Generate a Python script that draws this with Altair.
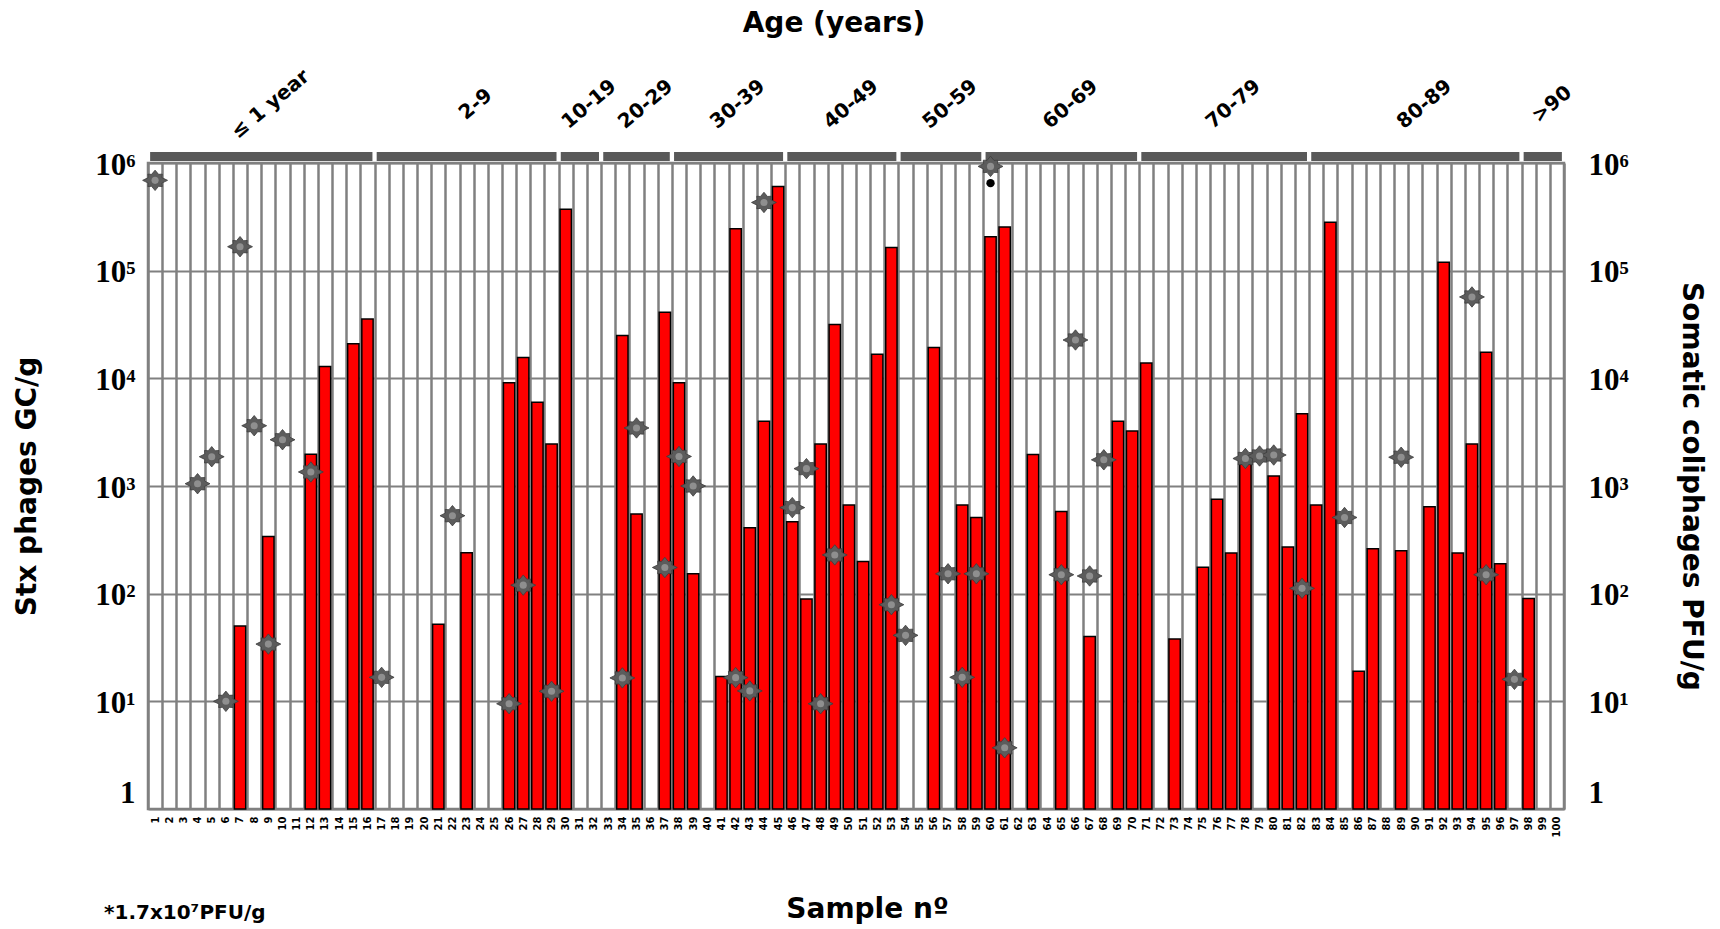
import json
import altair as alt
import pandas as pd

# ---------------- data ----------------
# 100 sample slots (0-based index); sample codes are unreadable in the picture
sample_ids = [str(i) for i in range(1, 101)]

age_groups = ["≤ 1 year", "2-9", "10-19", "20-29", "30-39", "40-49",
              "50-59", "60-69", "70-79", "80-89", ">90"]
group_first = [0, 16, 29, 32, 37, 45, 53, 59, 70, 82, 97]
group_last = [15, 28, 31, 36, 44, 52, 58, 69, 81, 96, 99]

# Stx phages GC/g (red bars)
stx_sample = [6, 8, 11, 12, 14, 15, 20, 22, 25, 26, 27, 28, 29, 33, 34, 36, 37, 38,
              40, 41, 42, 43, 44, 45, 46, 47, 48, 49, 50, 51, 52, 55, 57, 58, 59, 60,
              62, 64, 66, 68, 69, 70, 72, 74, 75, 76, 77, 79, 80, 81, 82, 83, 85, 86,
              88, 90, 91, 92, 93, 94, 95, 97]
stx_gc = [50, 340, 1970, 12900, 21000, 35600, 52, 240, 9100, 15600, 6000, 2450, 372000,
          25000, 550, 41000, 9100, 153, 17, 245000, 410, 4000, 605000, 466, 89, 2450,
          31600, 665, 199, 16700, 164000, 19300, 665, 510, 206000, 255000, 1960, 580,
          40, 4000, 3240, 13900, 38, 176, 754, 239, 1600, 1240, 272, 4700, 665, 282000,
          19, 262, 250, 640, 120000, 238, 2450, 17500, 190, 90]

# Somatic coliphages PFU/g (grey stars)
coli_sample = [0, 3, 4, 5, 6, 7, 8, 9, 11, 16, 21, 25, 26, 28, 33, 34, 36, 37, 38, 41,
               42, 43, 45, 46, 47, 48, 52, 53, 56, 57, 58, 59, 60, 64, 65, 66, 67, 77,
               78, 79, 81, 84, 88, 93, 94, 96]
coli_pfu = [690000, 1050, 1870, 10, 167000, 3630, 34, 2690, 1350, 16.7, 530, 9.5, 120,
            12.4, 16.5, 3460, 175, 1880, 1000, 16.6, 12.5, 430000, 630, 1450, 9.5, 229,
            79, 41, 153, 16.7, 153, 930000, 3.7, 150, 22700, 146, 1750, 1800, 1900,
            1940, 112, 510, 1850, 57000, 150, 16]

# off-scale value marker (*1.7x10^7 PFU/g)
offscale_sample = [59]
offscale_pfu = [650000]

# ---------------- frames ----------------
bars_df = pd.DataFrame({"slot": stx_sample, "gc": stx_gc})
stars_df = pd.DataFrame({"slot": coli_sample, "pfu": coli_pfu})
flag_df = pd.DataFrame({"slot": offscale_sample, "pfu": offscale_pfu})
groups_df = pd.DataFrame({"group": age_groups, "first": group_first, "last": group_last})

W, H = 1416, 646
GRID = "#808080"
TITLE_FONT = "DejaVu Sans"
TICK_FONT = "Liberation Serif"

xscale = alt.Scale(domain=[0, 100], nice=False, zero=False)
yscale = alt.Scale(type="log", domain=[1, 1000000], nice=False)

ylabel_expr = ("datum.value < 2 ? '1' : '10' + ['', '¹', '²', '³', '⁴', '⁵', '⁶']"
               "[round(log(datum.value) / LN10)]")
xlabel_expr = "datum.value < 100 ? " + json.dumps(sample_ids) + "[datum.value] : ''"
decades = [1, 10, 100, 1000, 10000, 100000, 1000000]

left_axis = alt.Axis(
    values=decades, labelExpr=ylabel_expr, grid=True, gridColor=GRID, gridWidth=2.2,
    ticks=False, domain=False, labelFont=TICK_FONT, labelFontWeight="bold",
    labelFontSize=31, labelColor="black", labelPadding=13,
    labelOffset={"condition": {"test": "datum.value < 2", "value": -16}, "value": 2},
    title="Stx phages GC/g", titleFont=TITLE_FONT, titleFontSize=28,
    titleFontWeight="bold", titleColor="black", titleAngle=270,
    titleX=-121, titleY=H / 2, titleAlign="center", titleBaseline="middle")

right_axis = alt.Axis(
    orient="right", values=decades, labelExpr=ylabel_expr, grid=False,
    ticks=False, domain=False, labelFont=TICK_FONT, labelFontWeight="bold",
    labelFontSize=31, labelColor="black", labelPadding=24,
    labelOffset={"condition": {"test": "datum.value < 2", "value": -16}, "value": 2},
    title="Somatic coliphages PFU/g", titleFont=TITLE_FONT, titleFontSize=28,
    titleFontWeight="bold", titleColor="black", titleAngle=90,
    titleX=126, titleY=H / 2, titleAlign="center", titleBaseline="middle")

x_axis = alt.Axis(
    values=list(range(0, 101)), grid=True, gridColor=GRID, gridWidth=2.5,
    ticks=False, domain=False, labelExpr=xlabel_expr, labelAngle=270,
    labelFont=TITLE_FONT, labelFontWeight="bold", labelFontSize=10,
    labelColor="black", labelOffset=7, labelPadding=7, labelOverlap=False,
    title="Sample nº", titleFont=TITLE_FONT, titleFontSize=28, titleFontWeight="bold",
    titleColor="black", titleX=719, titleY=100, titleAlign="center",
    titleBaseline="middle")

bars = alt.Chart(bars_df).transform_calculate(
    x0="datum.slot + 0.1", x1="datum.slot + 0.9"
).mark_bar(color="#ff0000", stroke="black", strokeWidth=1.5).encode(
    x=alt.X("x0:Q", scale=xscale, axis=x_axis),
    x2="x1:Q",
    y=alt.Y("gc:Q", scale=yscale, axis=left_axis),
    y2=alt.datum(1),
)

STAR = ("M-1,0 L-0.55,-0.22 L-0.58,-0.5 L-0.28,-0.48 L0,-0.82 L0.28,-0.48 L0.58,-0.5 "
        "L0.55,-0.22 L1,0 L0.55,0.22 L0.58,0.5 L0.28,0.48 L0,0.82 L-0.28,0.48 "
        "L-0.58,0.5 L-0.55,0.22 Z")

stars_base = alt.Chart(stars_df).transform_calculate(xc="datum.slot + 0.5")
stars = stars_base.mark_point(shape=STAR, filled=True, size=620, color="#5c5c5c",
                              stroke="#3c3c3c", strokeWidth=0.8, opacity=1).encode(
    x=alt.X("xc:Q", scale=xscale, axis=None),
    y=alt.Y("pfu:Q", scale=yscale, axis=right_axis),
)
stars_hi = stars_base.mark_point(shape="circle", filled=True, size=50, color="#8f8f8f",
                                 opacity=1).encode(
    x=alt.X("xc:Q", scale=xscale, axis=None),
    y=alt.Y("pfu:Q", scale=yscale, axis=None),
)

flag = alt.Chart(flag_df).transform_calculate(xc="datum.slot + 0.5").mark_point(
    shape="circle", filled=True, size=70, color="black", opacity=1).encode(
    x=alt.X("xc:Q", scale=xscale, axis=None),
    y=alt.Y("pfu:Q", scale=yscale, axis=None),
)

group_bars = alt.Chart(groups_df).transform_calculate(
    gs="datum.first + 0.15", ge="datum.last + 1 - 0.15"
).mark_rect(color="#595959").encode(
    x=alt.X("gs:Q", scale=xscale, axis=None),
    x2="ge:Q",
    y=alt.value(-11),
    y2=alt.value(-2),
)

group_labels = alt.Chart(groups_df).transform_calculate(
    gc="(datum.first + datum.last + 1) / 2"
).mark_text(angle=320, font=TITLE_FONT, fontWeight="bold", fontSize=20,
            color="black", align="center", baseline="middle", dx=12).encode(
    x=alt.X("gc:Q", scale=xscale, axis=None),
    y=alt.value(-51),
    text="group:N",
)

age_title = alt.Chart(pd.DataFrame({"t": ["Age (years)"]})).mark_text(
    font=TITLE_FONT, fontWeight="bold", fontSize=28, color="black",
    align="center", baseline="middle").encode(
    x=alt.value(686), y=alt.value(-139), text="t:N")

footnote = alt.Chart(pd.DataFrame({"t": ["*1.7x10⁷PFU/g"]})).mark_text(
    font=TITLE_FONT, fontWeight="bold", fontSize=20, color="black",
    align="left", baseline="middle").encode(
    x=alt.value(-44), y=alt.value(750), text="t:N")

chart = alt.layer(
    bars, group_bars, stars, stars_hi, flag, group_labels, age_title, footnote
).resolve_axis(x="independent", y="independent").properties(
    width=W, height=H,
    autosize=alt.AutoSizeParams(type="none"),
    padding={"left": 148, "top": 163, "right": 1720 - 148 - W, "bottom": 929 - 163 - H},
    background="white",
).configure_view(stroke=GRID, strokeWidth=2.5)

chart.save("out.html", embed_options={"renderer": "svg", "actions": False})
